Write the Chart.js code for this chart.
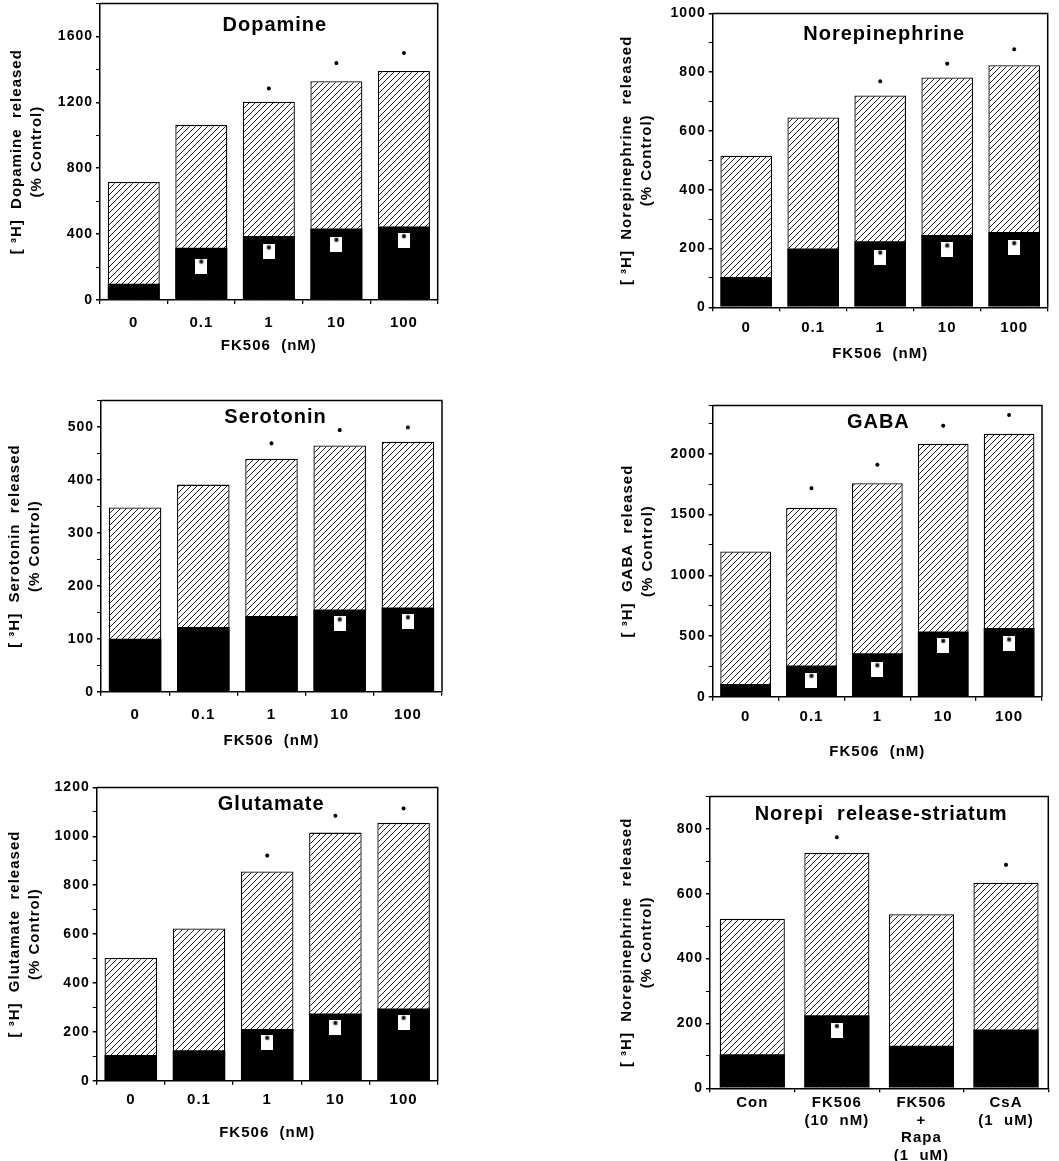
<!DOCTYPE html>
<html><head><meta charset="utf-8">
<script src="https://cdn.jsdelivr.net/npm/chart.js@4.4.1/dist/chart.umd.min.js"></script>
<style>
html,body{margin:0;padding:0;background:#fff;width:1059px;height:1161px;overflow:hidden;position:relative}
canvas{position:absolute}
</style></head><body>
<script>
// ---------------- DATA ----------------
const fkDoses = ['0', '0.1', '1', '10', '100'];
const striatumGroups = [['Con'], ['FK506', '(10  nM)'], ['FK506', '+', 'Rapa', '(1  uM)'], ['CsA', '(1  uM)']];

const dopamineTotal  = [716, 1063, 1203, 1328, 1390];
const dopamineBasal  = [99, 317, 389, 434, 446];
const dopamineSigTop = [null, null, 1284, 1438, 1499];
const dopamineSigBox = [null, 206, 292, 338, 360];

const norepiTotal  = [516, 646, 721, 782, 824];
const norepiBasal  = [103, 200, 225, 246, 256];
const norepiSigTop = [null, null, 769, 829, 878];
const norepiSigBox = [null, null, 171, 195, 203];

const serotoninTotal  = [348, 391, 440, 465, 472];
const serotoninBasal  = [100, 122, 143, 155, 159];
const serotoninSigTop = [null, null, 469, 494, 499];
const serotoninSigBox = [null, null, null, 128, 132];

const gabaTotal  = [1197, 1557, 1759, 2085, 2167];
const gabaBasal  = [104, 258, 357, 537, 567];
const gabaSigTop = [null, 1718, 1912, 2233, 2321];
const gabaSigBox = [null, 135, 222, 423, 435];

const glutamateTotal  = [502, 623, 856, 1015, 1055];
const glutamateBasal  = [105, 125, 212, 275, 295];
const glutamateSigTop = [null, null, 921, 1084, 1114];
const glutamateSigBox = [null, null, 157, 218, 239];

const striatumTotal  = [523, 726, 537, 634];
const striatumBasal  = [105, 225, 131, 181];
const striatumSigTop = [null, 774, null, 689];
const striatumSigBox = [null, 178, null, null];

// y-axis tick definitions: [max, minor step, labelled step]
const dopamineTicks  = [1800, 200, 400];
const norepiTicks    = [1000, 100, 200];
const serotoninTicks = [550, 50, 100];
const gabaTicks      = [2400, 250, 500];
const glutamateTicks = [1200, 100, 200];
const striatumTicks  = [900, 100, 200];

// ---------------- STYLE / LAYOUT ----------------
const FONT = '"Liberation Sans", Arial, Helvetica, sans-serif';
Chart.defaults.font.family = FONT;
Chart.defaults.font.weight = 'bold';
Chart.defaults.color = '#000';

function makeHatch() {
  const s = 6, c = document.createElement('canvas');
  c.width = s; c.height = s;
  const g = c.getContext('2d');
  g.fillStyle = '#fff'; g.fillRect(0, 0, s, s);
  g.strokeStyle = '#222'; g.lineWidth = 1;
  g.beginPath();
  g.moveTo(0, s); g.lineTo(s, 0);
  g.moveTo(-1, 1); g.lineTo(1, -1);
  g.moveTo(s - 1, s + 1); g.lineTo(s + 1, s - 1);
  g.stroke();
  return document.createElement('canvas').getContext('2d').createPattern(c, 'repeat');
}
function makeBox() {
  const c = document.createElement('canvas');
  c.width = 12; c.height = 15;
  const g = c.getContext('2d');
  g.fillStyle = '#fff'; g.fillRect(0, 0, 12, 15);
  g.strokeStyle = '#000'; g.lineWidth = 1.2;
  for (let a = 0; a < 4; a++) {
    const ang = a * Math.PI / 4;
    g.beginPath();
    g.moveTo(6 - 2.2 * Math.cos(ang), 3 - 2.2 * Math.sin(ang));
    g.lineTo(6 + 2.2 * Math.cos(ang), 3 + 2.2 * Math.sin(ang));
    g.stroke();
  }
  return c;
}
const hatch = makeHatch();
const boxImg = makeBox();

const spacingPlugin = {
  id: 'spacing',
  beforeLayout(chart) { chart.ctx.letterSpacing = '1px'; },
  beforeDraw(chart) { chart.ctx.letterSpacing = '1px'; }
};
const framePlugin = {
  id: 'frame',
  afterDraw(chart) {
    const {ctx, chartArea: a} = chart;
    ctx.save();
    ctx.strokeStyle = '#000'; ctx.lineWidth = 1.5;
    ctx.beginPath();
    ctx.moveTo(a.left, a.top); ctx.lineTo(a.right, a.top); ctx.lineTo(a.right, a.bottom);
    ctx.stroke();
    ctx.restore();
  }
};
const panelTitlePlugin = {
  id: 'panelTitle',
  afterDraw(chart, args, opts) {
    const {ctx, chartArea: a} = chart;
    ctx.save();
    ctx.font = 'bold 20px ' + FONT;
    ctx.fillStyle = '#000';
    ctx.textAlign = 'center'; ctx.textBaseline = 'middle';
    ctx.fillText(opts.text, (a.left + a.right) / 2 + opts.dx, a.top + opts.dy);
    ctx.restore();
  }
};

const panels = [
  {title: 'Dopamine', labels: fkDoses, total: dopamineTotal, basal: dopamineBasal, sigTop: dopamineSigTop, sigBox: dopamineSigBox, ticks: dopamineTicks,
   yTitle: ['[ ³H]  Dopamine  released', '(% Control)'], xTitle: 'FK506  (nM)',
   L: 100, R: 437.7, T: 2.7, B: 300, left: 0, bottom: 366, yt1: 16.5, xPad: 10, tdx: 6, tdy: 22},
  {title: 'Norepinephrine', labels: fkDoses, total: norepiTotal, basal: norepiBasal, sigTop: norepiSigTop, sigBox: norepiSigBox, ticks: norepiTicks,
   yTitle: ['[ ³H]  Norepinephrine  released', '(% Control)'], xTitle: 'FK506  (nM)',
   L: 712.7, R: 1047.7, T: 12.3, B: 307.3, left: 555, bottom: 374, yt1: 626.7, xPad: 8, tdx: 4, tdy: 21},
  {title: 'Serotonin', labels: fkDoses, total: serotoninTotal, basal: serotoninBasal, sigTop: serotoninSigTop, sigBox: serotoninSigBox, ticks: serotoninTicks,
   yTitle: ['[ ³H]  Serotonin  released', '(% Control)'], xTitle: 'FK506  (nM)',
   L: 101, R: 442, T: 399.4, B: 691.7, left: 0, bottom: 761, yt1: 15, xPad: 10, tdx: 4, tdy: 17},
  {title: 'GABA', labels: fkDoses, total: gabaTotal, basal: gabaBasal, sigTop: gabaSigTop, sigBox: gabaSigBox, ticks: gabaTicks,
   yTitle: ['[ ³H]  GABA  released', '(% Control)'], xTitle: 'FK506  (nM)',
   L: 712.7, R: 1042, T: 404.7, B: 696.7, left: 555, bottom: 772, yt1: 628.3, xPad: 7, tdx: 1, tdy: 17},
  {title: 'Glutamate', labels: fkDoses, total: glutamateTotal, basal: glutamateBasal, sigTop: glutamateSigTop, sigBox: glutamateSigBox, ticks: glutamateTicks,
   yTitle: ['[ ³H]  Glutamate  released', '(% Control)'], xTitle: 'FK506  (nM)',
   L: 96.7, R: 437.7, T: 786.7, B: 1080.7, left: 0, bottom: 1153, yt1: 15, xPad: 6, tdx: 4, tdy: 17},
  {title: 'Norepi  release-striatum', labels: striatumGroups, total: striatumTotal, basal: striatumBasal, sigTop: striatumSigTop, sigBox: striatumSigBox, ticks: striatumTicks,
   yTitle: ['[ ³H]  Norepinephrine  released', '(% Control)'], xTitle: null,
   L: 710, R: 1048.3, T: 795.8, B: 1088.3, left: 555, bottom: 1166, yt1: 626.7, xPad: 2, tdx: 2, tdy: 18, xLH: 1.17}
];

panels.forEach(p => {
  const top = Math.floor(p.T - 10);
  const padTop = p.T - top;
  const W = Math.ceil(p.R - p.left + 10);
  const padRight = W - (p.R - p.left);
  const H = Math.round(p.bottom - top);
  const xH = H - (p.B - top);
  const yW = p.L - p.left;

  const cv = document.createElement('canvas');
  cv.width = W; cv.height = H;
  cv.style.left = p.left + 'px'; cv.style.top = top + 'px';
  cv.style.width = W + 'px'; cv.style.height = H + 'px';
  document.body.appendChild(cv);

  const [yMax, yStep, yMajor] = p.ticks;

  new Chart(cv.getContext('2d'), {
    type: 'bar',
    data: {
      labels: p.labels,
      datasets: [
        {type: 'line', data: p.sigTop, showLine: false, pointStyle: 'star', pointRadius: 2,
         pointBorderWidth: 1.2, pointBorderColor: '#000', pointBackgroundColor: '#000', order: 0},
        {type: 'line', data: p.sigBox, showLine: false, pointStyle: boxImg, pointRadius: 7, order: 1},
        {type: 'bar', data: p.basal, backgroundColor: '#000', borderWidth: 0, stack: 's', order: 2,
         barPercentage: 1, categoryPercentage: 0.77},
        {type: 'bar', data: p.total, backgroundColor: hatch, borderColor: '#000', borderWidth: 1.3,
         borderSkipped: 'bottom', stack: 's', order: 3, barPercentage: 1, categoryPercentage: 0.77}
      ]
    },
    options: {
      responsive: false,
      devicePixelRatio: 1,
      animation: false,
      events: [],
      layout: {padding: {left: 0, top: padTop, right: padRight, bottom: 0}},
      plugins: {
        legend: {display: false},
        tooltip: {enabled: false},
        title: {display: false},
        panelTitle: {text: p.title, dx: p.tdx, dy: p.tdy}
      },
      scales: {
        x: {
          stacked: true,
          offset: true,
          grid: {display: true, drawOnChartArea: false, drawTicks: true, tickLength: 4, color: '#000', lineWidth: 1.3, offset: true},
          border: {display: true, color: '#000', width: 1.5},
          ticks: {font: {size: 15, weight: 'bold', lineHeight: p.xLH || 1.2}, padding: p.xPad, color: '#000', maxRotation: 0, autoSkip: false},
          title: {display: !!p.xTitle, text: p.xTitle || '', font: {size: 15, weight: 'bold', lineHeight: 1.2}, padding: {top: 0, bottom: 11}, color: '#000'},
          afterFit: s => { s.height = xH; }
        },
        y: {
          stacked: false,
          min: 0, max: yMax,
          grid: {display: true, drawOnChartArea: false, drawTicks: true, tickLength: 4, color: '#000',
                 lineWidth: ctx => (ctx.tick && ctx.tick.value % yMajor === 0 ? 1.5 : 1)},
          border: {display: true, color: '#000', width: 1.5},
          ticks: {stepSize: yStep, autoSkip: false, padding: 3, color: '#000', font: {size: 14, weight: 'bold'},
                  callback: v => (v % yMajor === 0 ? String(v) : '')},
          title: {display: true, text: p.yTitle, font: {size: 15, weight: 'bold', lineHeight: 1.33},
                  padding: {top: p.yt1 - p.left - 10, bottom: 0}, color: '#000'},
          afterFit: s => { s.width = yW; }
        }
      }
    },
    plugins: [spacingPlugin, framePlugin, panelTitlePlugin]
  });
});
</script>
</body></html>
